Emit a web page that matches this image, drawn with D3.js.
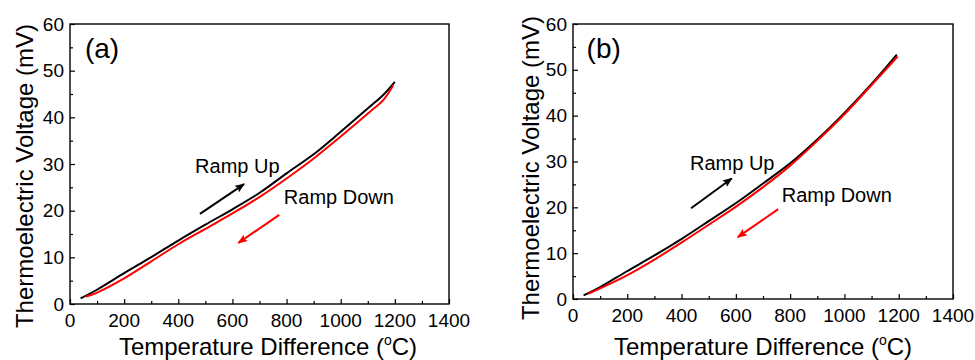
<!DOCTYPE html>
<html>
<head>
<meta charset="utf-8">
<script src="https://cdn.jsdelivr.net/npm/d3@7"></script>
<style>
  body { margin: 0; background: #fff; }
  text { font-family: "Liberation Sans", Arial, sans-serif; fill: #000; }
</style>
</head>
<body>
<div id="wrapper"></div>
<script>
// data
const tempUpA   = [39, 98, 200, 302, 400, 500, 600, 702, 800, 905, 1000, 1108, 1157, 1200]
const voltUpA   = [1.2, 3.0, 6.6, 10.1, 13.6, 17.0, 20.3, 23.9, 28.0, 32.3, 36.9, 42.3, 44.8, 47.6]
const tempDownA = [59, 98, 200, 302, 400, 500, 600, 702, 800, 905, 1000, 1108, 1157, 1194]
const voltDownA = [1.6, 2.4, 5.5, 9.2, 12.8, 16.1, 19.4, 23.0, 26.9, 31.4, 35.9, 41.2, 43.7, 46.9]

const tempUpB   = [39, 100, 197, 300, 405, 500, 602, 700, 800, 900, 1000, 1100, 1193]
const voltUpB   = [0.8, 2.6, 6.0, 9.5, 13.3, 17.0, 21.0, 25.2, 29.6, 34.8, 40.6, 46.9, 53.3]
const tempDownB = [55, 100, 197, 300, 405, 500, 602, 700, 800, 900, 1000, 1100, 1196]
const voltDownB = [1.1, 2.3, 5.1, 8.6, 12.5, 16.2, 20.2, 24.4, 29.1, 34.5, 40.3, 46.7, 52.9]

const xTicks = [0, 200, 400, 600, 800, 1000, 1200, 1400]
const yTicks = [0, 10, 20, 30, 40, 50, 60]

async function drawPanels() {
  const zip = (xs, ys) => xs.map((x, i) => ({ t: x, v: ys[i] }))

  const panels = [
    {
      tag: '(a)', left: 70, top: 24, w: 379, h: 280,
      up: zip(tempUpA, voltUpA), down: zip(tempDownA, voltDownA),
      upArrow: [[480, 19.3], [643, 25.7]], downArrow: [[773, 19.1], [622, 13.1]],
      upText: [462, 28.1], downText: [790, 21.4], tagPos: [55, 52.7],
      yTitleX: 33, yTitleY: 176, xTitleX: 268
    },
    {
      tag: '(b)', left: 573, top: 24, w: 380, h: 275,
      up: zip(tempUpB, voltUpB), down: zip(tempDownB, voltDownB),
      upArrow: [[435, 19.8], [585, 26.3]], downArrow: [[756, 19.6], [607, 13.5]],
      upText: [431, 28.1], downText: [769, 21.2], tagPos: [50, 52.6],
      yTitleX: 539, yTitleY: 168, xTitleX: 763
    }
  ]

  const wrapper = d3.select('#wrapper')
    .append('svg')
      .attr('width', 975)
      .attr('height', 360)

  const defs = wrapper.append('defs')
  ;[['head-black', '#000'], ['head-red', '#ff0000']].forEach(([id, c]) => {
    defs.append('marker')
        .attr('id', id)
        .attr('viewBox', '0 0 10 8')
        .attr('refX', 9)
        .attr('refY', 4)
        .attr('markerWidth', 10)
        .attr('markerHeight', 8)
        .attr('markerUnits', 'userSpaceOnUse')
        .attr('orient', 'auto')
      .append('path')
        .attr('d', 'M0,0 L10,4 L0,8 L2,4 Z')
        .attr('fill', c)
  })

  panels.forEach(p => {
    const bounds = wrapper.append('g')
      .attr('transform', `translate(${p.left},${p.top})`)

    const xScale = d3.scaleLinear().domain([0, 1400]).range([0, p.w])
    const yScale = d3.scaleLinear().domain([0, 60]).range([p.h, 0])

    // ticks, inward, bottom and left only
    const xAxis = bounds.append('g')
      .attr('transform', `translate(0,${p.h})`)
      .call(d3.axisBottom(xScale).tickValues(d3.range(0, 1401, 100)).tickSize(-5).tickFormat(''))
    xAxis.selectAll('.tick line')
      .attr('y2', d => d % 200 === 0 ? -5 : -3)
    const yAxis = bounds.append('g')
      .call(d3.axisLeft(yScale).tickValues(d3.range(0, 61, 5)).tickSize(-5).tickFormat(''))
    yAxis.selectAll('.tick line')
      .attr('x2', d => d % 10 === 0 ? 5 : 3)
    bounds.selectAll('.domain').remove()
    bounds.selectAll('.tick line').attr('stroke', '#000').attr('stroke-width', 1.2)

    bounds.append('g').selectAll('text')
      .data(xTicks)
      .join('text')
        .attr('x', d => xScale(d))
        .attr('y', p.h + 23)
        .attr('text-anchor', 'middle')
        .style('font-size', '19px')
        .text(d => d)

    bounds.append('g').selectAll('text')
      .data(yTicks)
      .join('text')
        .attr('x', -6)
        .attr('y', d => yScale(d))
        .attr('dy', '0.35em')
        .attr('text-anchor', 'end')
        .style('font-size', '19px')
        .text(d => d)

    // frame
    bounds.append('rect')
      .attr('width', p.w)
      .attr('height', p.h)
      .attr('fill', 'none')
      .attr('stroke', '#000')
      .attr('stroke-width', 1.4)

    const lineGen = d3.line()
      .x(d => xScale(d.t))
      .y(d => yScale(d.v))
      .curve(d3.curveCatmullRom.alpha(0.5))

    bounds.append('path')
      .attr('d', lineGen(p.up))
      .attr('fill', 'none')
      .attr('stroke', '#000')
      .attr('stroke-width', 2)

    bounds.append('path')
      .attr('d', lineGen(p.down))
      .attr('fill', 'none')
      .attr('stroke', '#ff0000')
      .attr('stroke-width', 2)

    // annotations
    const arrow = (pts, color, head) => bounds.append('line')
      .attr('x1', xScale(pts[0][0])).attr('y1', yScale(pts[0][1]))
      .attr('x2', xScale(pts[1][0])).attr('y2', yScale(pts[1][1]))
      .attr('stroke', color)
      .attr('stroke-width', 2)
      .attr('marker-end', `url(#${head})`)
    arrow(p.upArrow, '#000', 'head-black')
    arrow(p.downArrow, '#ff0000', 'head-red')

    bounds.append('text')
      .attr('x', xScale(p.upText[0]))
      .attr('y', yScale(p.upText[1]))
      .style('font-size', '20px')
      .text('Ramp Up')
    bounds.append('text')
      .attr('x', xScale(p.downText[0]))
      .attr('y', yScale(p.downText[1]))
      .style('font-size', '20px')
      .text('Ramp Down')
    bounds.append('text')
      .attr('x', xScale(p.tagPos[0]))
      .attr('y', yScale(p.tagPos[1]))
      .style('font-size', '28px')
      .text(p.tag)

    // axis titles
    wrapper.append('text')
      .attr('transform', `translate(${p.yTitleX},${p.yTitleY}) rotate(-90)`)
      .attr('text-anchor', 'middle')
      .style('font-size', '24px')
      .text('Thermoelectric Voltage (mV)')

    const xt = wrapper.append('text')
      .attr('x', p.xTitleX)
      .attr('y', 355)
      .attr('text-anchor', 'middle')
      .style('font-size', '24px')
    xt.append('tspan').text('Temperature Difference (')
    xt.append('tspan').attr('dy', -10).style('font-size', '14px').text('o')
    xt.append('tspan').attr('dy', 10).text('C)')
  })
}

drawPanels()
</script>
</body>
</html>
